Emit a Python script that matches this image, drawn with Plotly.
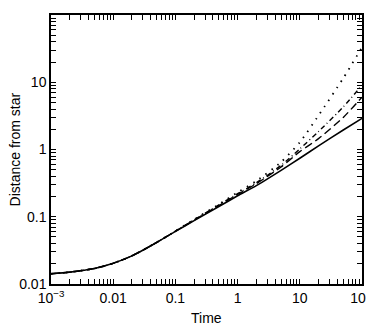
import plotly.graph_objects as go

# sample times
time = [0.001, 0.002, 0.005, 0.01, 0.02, 0.05, 0.1, 0.2, 0.5, 1, 2, 5, 10, 20, 50, 100]

# distance from star for each model run
dist_solid = [0.0142, 0.0150, 0.0170, 0.0203, 0.0262, 0.0415, 0.0605, 0.0875, 0.142, 0.205, 0.29, 0.49, 0.74, 1.13, 1.95, 2.9]
dist_longdash = [0.0142, 0.0150, 0.0170, 0.0203, 0.0262, 0.0415, 0.0608, 0.089, 0.147, 0.215, 0.31, 0.55, 0.93, 1.45, 3.0, 6.0]
dist_dash = [0.0142, 0.0150, 0.0170, 0.0203, 0.0262, 0.0415, 0.061, 0.090, 0.150, 0.22, 0.32, 0.58, 1.02, 1.85, 4.3, 9.0]
dist_dotted = [0.0142, 0.0150, 0.0170, 0.0203, 0.0262, 0.0415, 0.0612, 0.091, 0.153, 0.23, 0.34, 0.65, 1.28, 3.2, 11.5, 33.0]

x_major = [0.001, 0.01, 0.1, 1, 10, 100]
x_labels = ["10<sup>−3</sup>", "0.01", "0.1", "1", "10", "100"]
y_major = [0.01, 0.1, 1, 10, 100]
y_labels = ["0.01", "0.1", "1", "10", "100"]

# minor ticks at 2..9 of every decade (unlabelled)
x_minor = [m * 10.0 ** e for e in range(-3, 2) for m in range(2, 10)]
y_minor = [m * 10.0 ** e for e in range(-2, 2) for m in range(2, 10)]

FONT = dict(family="Liberation Sans, Arial", size=14, color="black")

fig = go.Figure()

series = [
    (dist_solid, "solid", 1.6),
    (dist_longdash, "8px,4px", 1.4),
    (dist_dash, "5px,3px,1px,3px", 1.4),
    (dist_dotted, "1.5px,6px", 1.8),
]
for ys, dash, w in series:
    fig.add_trace(
        go.Scatter(
            x=time,
            y=ys,
            mode="lines",
            line=dict(color="black", width=w, dash=dash, shape="spline", smoothing=0.6),
            showlegend=False,
        )
    )

axis_common = dict(
    type="log",
    automargin=False,
    showline=True,
    linecolor="black",
    linewidth=1.5,
    mirror="ticks",
    ticks="inside",
    ticklen=5,
    tickwidth=1.2,
    tickcolor="black",
    showgrid=False,
    zeroline=False,
    tickfont=FONT,
)

fig.update_xaxes(
    **axis_common, range=[-3, 2],
    tickmode="array",
    tickvals=x_major + x_minor,
    ticktext=x_labels + [""] * len(x_minor),
)
fig.update_yaxes(
    **axis_common, range=[-2, 2],
    tickmode="array",
    tickvals=y_major + y_minor,
    ticktext=y_labels + [""] * len(y_minor),
)

# axis titles
fig.add_annotation(text="Time", xref="paper", yref="paper", x=0.5, y=-0.125,
                   yanchor="middle", showarrow=False, font=FONT)
fig.add_annotation(text="Distance from star", xref="paper", yref="paper", x=-0.116, y=0.5,
                   xanchor="center", yanchor="middle", textangle=-90, showarrow=False, font=FONT)

# page body keeps its default 8px margin, so the figure is sized to fit the window
fig.update_layout(
    width=366,
    height=320,
    margin=dict(l=43, r=12, t=7, b=44),
    plot_bgcolor="white",
    paper_bgcolor="white",
)

fig.write_html("out.html", config={"displayModeBar": False})
